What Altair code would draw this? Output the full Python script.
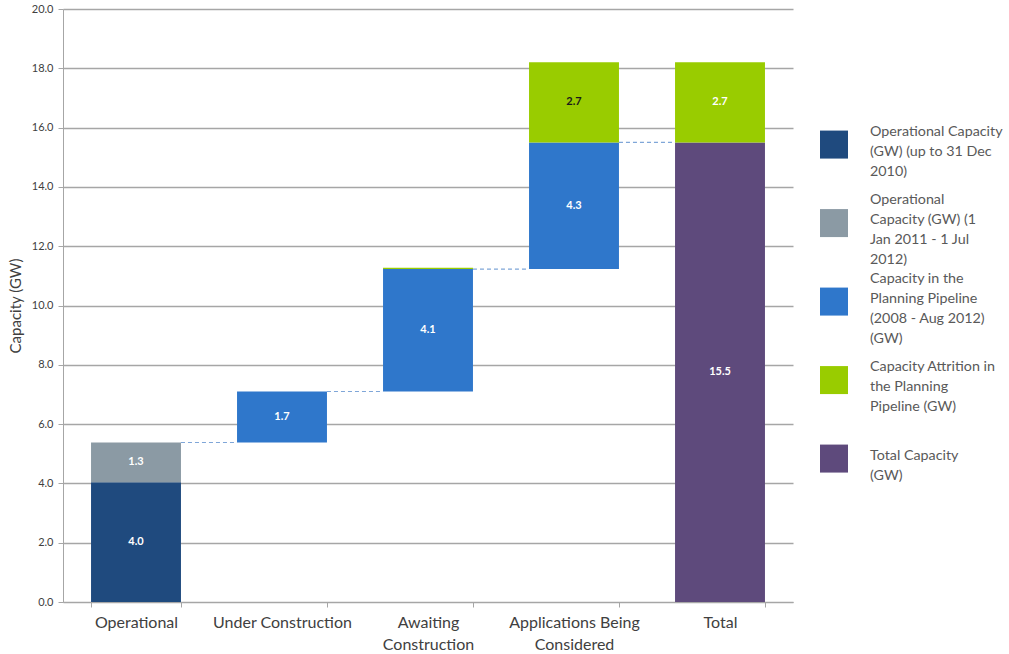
import altair as alt
import pandas as pd

# Categories along the x axis ("|" marks a line break in the axis label)
categories = [
    "Operational",
    "Under Construction",
    "Awaiting|Construction",
    "Applications Being|Considered",
    "Total",
]

# Series shown in the legend ("|" marks a line break in the legend label)
series = [
    "Operational Capacity|(GW) (up to 31 Dec|2010)",
    "Operational|Capacity  (GW) (1|Jan 2011  - 1 Jul|2012)",
    "Capacity in the|Planning Pipeline|(2008 - Aug 2012)|(GW)",
    "Capacity Attrition in|the Planning|Pipeline (GW)",
    "Total Capacity|(GW)",
]
colors = ["#1f4a7e", "#8b9aa4", "#2f77cb", "#99cc00", "#5e4a7c"]

# Segments of each waterfall column: category index, series index, capacity (GW)
seg_category = [0, 0, 1, 2, 2, 3, 3, 4, 4]
seg_series = [0, 1, 2, 2, 3, 2, 3, 4, 3]
seg_value = [4.04, 1.34, 1.72, 4.13, 0.04, 4.27, 2.70, 15.50, 2.70]

ATTRITION = series[3]
TOTAL = categories[-1]

# Build the waterfall: each column starts where the previous one's pipeline ended
rows = []
running = 0.0
tops = []
for ci, cat in enumerate(categories):
    base = 0.0 if cat == TOTAL else running
    level = base
    for c, s, v in zip(seg_category, seg_series, seg_value):
        if c != ci:
            continue
        rows.append({"category": cat, "series": series[s], "start": level,
                     "end": level + v, "value": v, "mid": level + v / 2})
        level += v
        if series[s] != ATTRITION:
            base = level
    running = base
    tops.append(base)
segments = pd.DataFrame(rows)

connectors = pd.DataFrame({
    "from": categories[:-1],
    "to": categories[1:],
    "level": tops[:-1],
})

legend_df = pd.DataFrame({"series": series, "slot": list(range(len(series)))})

FONT = "Lato"
LEGEND_LINE = 20      # px between wrapped legend lines
LEGEND_STEP = 78.5    # px between legend entries
LEGEND_H = 593

color_scale = alt.Scale(domain=series, range=colors)
x_scale = alt.Scale(domain=categories, paddingInner=0.384, paddingOuter=0.192)
y_scale = alt.Scale(domain=[0, 20], nice=False)

x_axis = alt.Axis(
    title=None, labelAngle=0, labelExpr="split(datum.label, '|')",
    tickBand="extent", grid=False, domainColor="#a6a6a6", tickColor="#a6a6a6",
    tickSize=5, labelFontSize=16, labelColor="#404040", labelFont=FONT,
    labelPadding=7, labelLineHeight=22,
)
y_axis = alt.Axis(
    title="Capacity (GW)", values=list(range(0, 21, 2)), format=".1f",
    grid=True, gridColor="#a6a6a6", gridWidth=1.3, domainColor="#a6a6a6",
    tickColor="#a6a6a6", tickSize=5, labelFontSize=11, labelColor="#404040",
    labelFont=FONT, titleFont=FONT, titleFontSize=15, titleFontWeight="normal",
    titleColor="#404040", titlePadding=8, labelPadding=5,
)

bars = alt.Chart(segments).mark_bar().encode(
    x=alt.X("category:N", scale=x_scale, axis=x_axis, sort=categories),
    y=alt.Y("start:Q", scale=y_scale, axis=y_axis),
    y2="end:Q",
    color=alt.Color("series:N", scale=color_scale, legend=None),
)

labels = alt.Chart(segments).transform_filter("datum.value >= 0.5").mark_text(
    font=FONT, fontSize=11, fontWeight="bold"
).encode(
    x=alt.X("category:N", scale=x_scale, sort=categories),
    y=alt.Y("mid:Q", scale=y_scale),
    text=alt.Text("value:Q", format=".1f"),
    color=alt.condition(
        "datum.category == 'Applications Being|Considered' && datum.series == '%s'" % ATTRITION,
        alt.value("#1a1a1a"),
        alt.value("#ffffff"),
    ),
)

links = alt.Chart(connectors).mark_rule(
    color="#7fa6d8", strokeDash=[4, 3], strokeWidth=1.2
).encode(
    x=alt.X("from:N", scale=x_scale, sort=categories, bandPosition=1),
    x2=alt.X2("to:N", bandPosition=0),
    y=alt.Y("level:Q", scale=y_scale),
)

main = alt.layer(bars, links, labels).properties(width=730, height=593)

# Legend drawn as its own small view: one swatch and a wrapped label per series
half_span = LEGEND_H / LEGEND_STEP / 2
mid_slot = (len(series) - 1) / 2 + 0.05
legend_scale = alt.Scale(domain=[mid_slot - half_span, mid_slot + half_span],
                         reverse=True, nice=False, zero=False)

swatches = alt.Chart(legend_df).mark_square(size=784, opacity=1).encode(
    x=alt.value(14),
    y=alt.Y("slot:Q", scale=legend_scale, axis=None),
    color=alt.Color("series:N", scale=color_scale, legend=None),
)

legend_text = alt.Chart(legend_df).transform_calculate(
    pos="datum.slot + (7 - (length(split(datum.series, '|')) - 1) * %d / 2) / %f"
    % (LEGEND_LINE, LEGEND_STEP)
).mark_text(
    align="left", baseline="middle", lineBreak="|", lineHeight=LEGEND_LINE,
    font=FONT, fontSize=14.3, color="#595959",
).encode(
    x=alt.value(50),
    y=alt.Y("pos:Q", scale=legend_scale, axis=None),
    text="series:N",
)

legend = alt.layer(swatches, legend_text).properties(width=185, height=LEGEND_H)

chart = alt.hconcat(main, legend, spacing=27).resolve_scale(y="independent").properties(
    padding={"left": 8, "top": 3, "right": 0, "bottom": 0},
    background="#ffffff",
).configure_view(stroke=None, strokeWidth=0)

chart.save("out.html", embed_options={"renderer": "svg", "actions": False})
